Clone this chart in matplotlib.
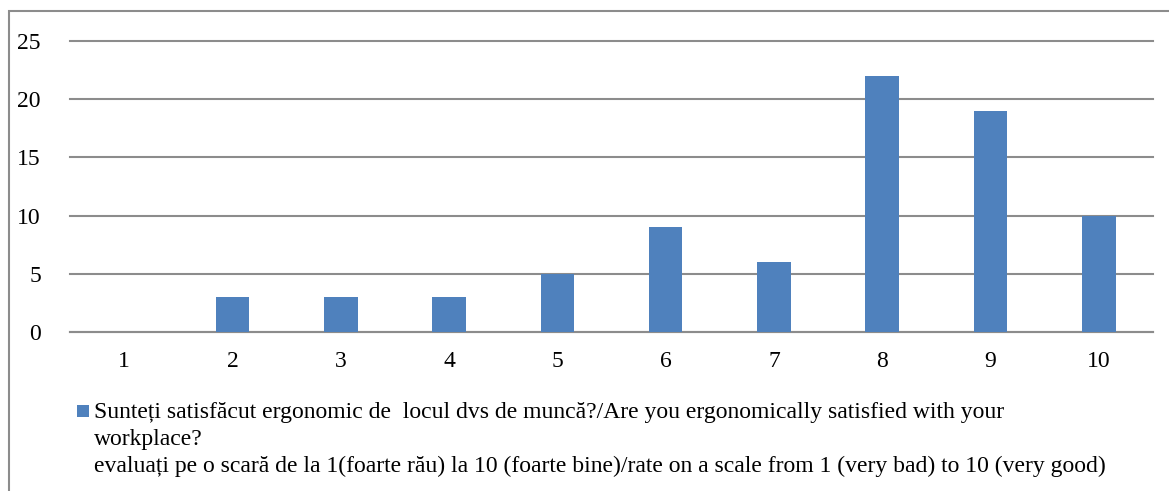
import matplotlib
matplotlib.use("Agg")
import matplotlib.pyplot as plt
from matplotlib.patches import Rectangle

categories = ["1", "2", "3", "4", "5", "6", "7", "8", "9", "10"]
values = [0, 3, 3, 3, 5, 9, 6, 22, 19, 10]
yticks = [0, 5, 10, 15, 20, 25]
series_label_lines = [
    "Sunteți satisfăcut ergonomic de  locul dvs de muncă?/Are you ergonomically satisfied with your",
    "workplace?",
    "evaluați pe o scară de la 1(foarte rău) la 10 (foarte bine)/rate on a scale from 1 (very bad) to 10 (very good)",
]

plt.rcParams['font.family'] = ['Liberation Serif', 'DejaVu Serif']

W, H = 1169, 491
fig = plt.figure(figsize=(W / 100, H / 100), dpi=100)

# outer chart frame
fig.patches.append(Rectangle((9 / W, -0.1), 1.2, (H - 11) / H + 0.1, transform=fig.transFigure,
                             fill=False, edgecolor="#8c8c8c", linewidth=1.5))

ax = fig.add_axes([70 / W, (H - 332) / H, (1153 - 70) / W, (332 - 41) / H])
x = list(range(len(categories)))
bars = ax.bar(x, values, width=0.31, color="#4F81BD", label="\n".join(series_label_lines), zorder=3)
ax.set_xlim(-0.5, len(categories) - 0.5)
ax.set_ylim(0, 25)
ax.set_yticks(yticks)
ax.set_xticks(x)
ax.set_xticklabels(categories)
ax.yaxis.grid(True, color="#8c8c8c", linewidth=1.5, zorder=0)
for gl in ax.get_ygridlines():
    gl.set_clip_on(False)
for s in ["top", "right", "left"]:
    ax.spines[s].set_visible(False)
ax.spines["bottom"].set_color("#8c8c8c")
ax.spines["bottom"].set_linewidth(1.5)
ax.tick_params(axis="both", length=0, labelsize=17)
ax.tick_params(axis="x", pad=14)
ax.tick_params(axis="y", pad=21)

# legend (key square + three text lines)
fig.patches.append(Rectangle((77 / W, (H - 417) / H), 12 / W, 12 / H, transform=fig.transFigure,
                             facecolor=bars.patches[0].get_facecolor(), edgecolor="none"))
for i, line in enumerate(series_label_lines):
    fig.text(94 / W, (H - (418 + 27 * i)) / H, line, fontsize=17, ha="left", va="baseline")

fig.savefig("out.png", dpi=100)
